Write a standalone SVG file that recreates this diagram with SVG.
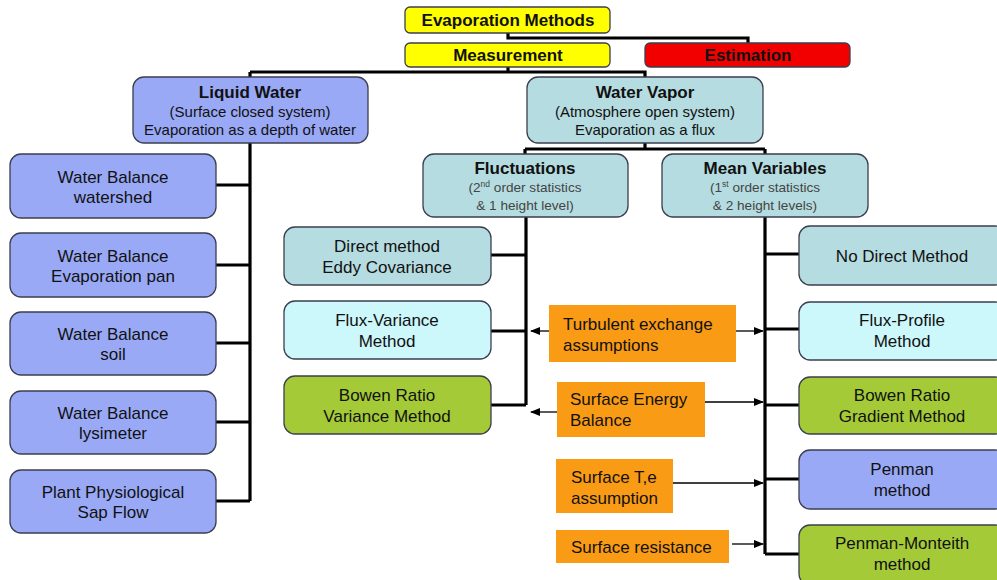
<svg xmlns="http://www.w3.org/2000/svg" width="997" height="580" viewBox="0 0 997 580">
<style>
text{font-family:"Liberation Sans",Arial,sans-serif;fill:#111;text-anchor:middle}
.b{font-weight:bold;font-size:17px}
.t{font-size:17px}
.s{font-size:15px}
.st{font-size:13.6px;fill:#444}
.o{font-size:17px;text-anchor:start}
.box{stroke:#3b3f4e;stroke-width:1.3}
.yel{fill:#FFFF00}
.red{fill:#F20000}
.blu{fill:#99A9F6}
.teal{fill:#B5DCE0}
.cyan{fill:#CCF7FB}
.grn{fill:#A4CB37}
.org{fill:#F99B14}
.ln{stroke:#000;stroke-width:3.2;fill:none}
.ar{stroke:#000;stroke-width:1.3;fill:none;marker-end:url(#ah)}
</style>
<defs>
<marker id="ah" markerWidth="10" markerHeight="8" refX="9" refY="4" orient="auto" markerUnits="userSpaceOnUse">
<path d="M0,0 L10,4 L0,8 Z" fill="#000"/>
</marker>
</defs>
<rect width="997" height="580" fill="#fff"/>
<g id="connectors">
<path class="ln" d="M508,33 V38 H748 V43"/>
<path class="ln" d="M508,67 V72"/>
<path class="ln" d="M250,72 H645 V77"/>
<path class="ln" d="M250,72 V77"/>
<path class="ln" d="M250,143 V501"/>
<path class="ln" d="M216,185 H250 M216,265 H250 M216,343 H250 M216,422 H250 M216,501 H250"/>
<path class="ln" d="M645,143 V149 M525,149 H765 M525,149 V154 M765,149 V154"/>
<path class="ln" d="M526,217 V405 M491,255 H526 M491,331 H526 M491,405 H526"/>
<path class="ln" d="M765,217 V554 M765,254 H799 M765,329 H799 M765,405 H799 M765,479 H799 M765,554 H799"/>
<path class="ar" d="M549,331 H531"/>
<path class="ar" d="M732,331 H763"/>
<path class="ar" d="M557,412 H531"/>
<path class="ar" d="M702,402 H763"/>
<path class="ar" d="M668,483 H763"/>
<path class="ar" d="M732,544 H763"/>
</g>
<g id="evap-methods"><rect class="box yel" x="405" y="7" width="205" height="26" rx="5"/><text class="b" x="508" y="26">Evaporation Methods</text></g>
<g id="measurement"><rect class="box yel" x="405" y="43" width="205" height="24" rx="5"/><text class="b" x="508" y="61">Measurement</text></g>
<g id="estimation"><rect class="box red" x="645" y="43" width="205" height="24" rx="5"/><text class="b" x="748" y="61">Estimation</text></g>
<g id="liquid-water"><rect class="box blu" x="133" y="77" width="235" height="66" rx="11"/><text class="b" x="250" y="98">Liquid Water</text><text class="s" x="250" y="117">(Surface closed system)</text><text class="s" x="250" y="135">Evaporation as a depth of water</text></g>
<g id="water-vapor"><rect class="box teal" x="527" y="77" width="236" height="66" rx="11"/><text class="b" x="645" y="98">Water Vapor</text><text class="s" x="645" y="117">(Atmosphere open system)</text><text class="s" x="645" y="135">Evaporation as a flux</text></g>
<g id="fluctuations"><rect class="box teal" x="423" y="154" width="205" height="63" rx="11"/><text class="b" x="525" y="174">Fluctuations</text><text class="st" x="525" y="192">(2<tspan font-size="8.5" dy="-5">nd</tspan><tspan dy="5"> order statistics</tspan></text><text class="st" x="525" y="210">&amp; 1 height level)</text></g>
<g id="mean-variables"><rect class="box teal" x="662" y="154" width="206" height="63" rx="11"/><text class="b" x="765" y="174">Mean Variables</text><text class="st" x="765" y="192">(1<tspan font-size="8.5" dy="-5">st</tspan><tspan dy="5"> order statistics</tspan></text><text class="st" x="765" y="210">&amp; 2 height levels)</text></g>
<g id="wb-watershed"><rect class="box blu" x="10" y="154" width="206" height="64" rx="11"/><text class="t" x="113" y="183">Water Balance</text><text class="t" x="113" y="203">watershed</text></g>
<g id="wb-pan"><rect class="box blu" x="10" y="233" width="206" height="64" rx="11"/><text class="t" x="113" y="262">Water Balance</text><text class="t" x="113" y="282">Evaporation pan</text></g>
<g id="wb-soil"><rect class="box blu" x="10" y="312" width="206" height="63" rx="11"/><text class="t" x="113" y="340">Water Balance</text><text class="t" x="113" y="360">soil</text></g>
<g id="wb-lysimeter"><rect class="box blu" x="10" y="391" width="206" height="63" rx="11"/><text class="t" x="113" y="419">Water Balance</text><text class="t" x="113" y="439">lysimeter</text></g>
<g id="sap-flow"><rect class="box blu" x="10" y="470" width="206" height="63" rx="11"/><text class="t" x="113" y="498">Plant Physiological</text><text class="t" x="113" y="518">Sap Flow</text></g>
<g id="eddy-cov"><rect class="box teal" x="284" y="227" width="207" height="58" rx="11"/><text class="t" x="387" y="252">Direct method</text><text class="t" x="387" y="273">Eddy Covariance</text></g>
<g id="flux-variance"><rect class="box cyan" x="284" y="301" width="207" height="58" rx="11"/><text class="t" x="387" y="326">Flux-Variance</text><text class="t" x="387" y="347">Method</text></g>
<g id="bowen-variance"><rect class="box grn" x="284" y="376" width="207" height="58" rx="11"/><text class="t" x="387" y="401">Bowen Ratio</text><text class="t" x="387" y="422">Variance Method</text></g>
<g id="no-direct"><rect class="box teal" x="799" y="226" width="207" height="59" rx="11"/><text class="t" x="902" y="262">No Direct Method</text></g>
<g id="flux-profile"><rect class="box cyan" x="799" y="302" width="207" height="58" rx="11"/><text class="t" x="902" y="326">Flux-Profile</text><text class="t" x="902" y="347">Method</text></g>
<g id="bowen-gradient"><rect class="box grn" x="799" y="377" width="207" height="57" rx="11"/><text class="t" x="902" y="401">Bowen Ratio</text><text class="t" x="902" y="422">Gradient Method</text></g>
<g id="penman"><rect class="box blu" x="799" y="450" width="207" height="59" rx="11"/><text class="t" x="902" y="475">Penman</text><text class="t" x="902" y="496">method</text></g>
<g id="penman-monteith"><rect class="box grn" x="799" y="525" width="207" height="60" rx="11"/><text class="t" x="902" y="549">Penman-Monteith</text><text class="t" x="902" y="570">method</text></g>
<g id="turbulent"><rect class="org" x="549" y="305" width="187" height="57"/><text class="o" x="563" y="330">Turbulent exchange</text><text class="o" x="563" y="351">assumptions</text></g>
<g id="energy-balance"><rect class="org" x="557" y="382" width="148" height="55"/><text class="o" x="570" y="405">Surface Energy</text><text class="o" x="570" y="426">Balance</text></g>
<g id="surface-te"><rect class="org" x="556" y="459" width="117" height="54"/><text class="o" x="571" y="483">Surface T,e</text><text class="o" x="571" y="504">assumption</text></g>
<g id="surface-resistance"><rect class="org" x="556" y="530" width="173" height="33"/><text class="o" x="571" y="553">Surface resistance</text></g>
</svg>
